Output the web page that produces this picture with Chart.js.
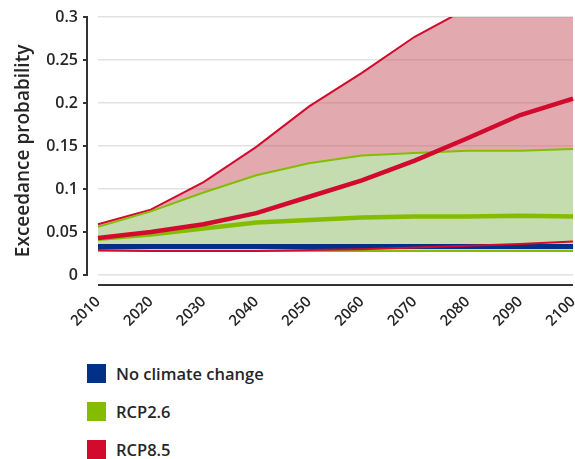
<!DOCTYPE html>
<html>
<head>
<meta charset="utf-8">
<script src="https://cdn.jsdelivr.net/npm/chart.js@4.4.1/dist/chart.umd.min.js"></script>
<style>
  html, body { margin: 0; padding: 0; background: #fff; }
  body { width: 575px; height: 459px; overflow: hidden; position: relative; font-family: "Open Sans", sans-serif; }
  #wrap { position: absolute; left: 0; top: 0; width: 575px; height: 340px; }
  .legend { position: absolute; left: 87px; top: 364px; }
  .legend .item { display: flex; align-items: center; height: 19px; margin-bottom: 19px; font-size: 16.5px; font-weight: 600; color: #262626; }
  .legend .sw { width: 19px; height: 19px; margin-right: 10px; }
</style>
</head>
<body>
<div id="wrap"><canvas id="chart"></canvas></div>
<div class="legend" id="legend"></div>
<script>
// 年（10年刻み）
const years = ['2010', '2020', '2030', '2040', '2050', '2060', '2070', '2080', '2090', '2100'];

// 気候変動なし
const noChange = [0.033, 0.033, 0.033, 0.033, 0.033, 0.033, 0.033, 0.033, 0.033, 0.033];

// RCP2.6（下限・中央・上限）
const rcp26Low = [0.028, 0.028, 0.028, 0.028, 0.028, 0.028, 0.028, 0.028, 0.028, 0.028];
const rcp26Mid = [0.042, 0.047, 0.054, 0.061, 0.064, 0.067, 0.068, 0.068, 0.069, 0.068];
const rcp26Up  = [0.056, 0.074, 0.096, 0.116, 0.130, 0.139, 0.142, 0.1445, 0.1445, 0.1465];

// RCP8.5（下限・中央・上限）
const rcp85Low = [0.029, 0.028, 0.028, 0.028, 0.029, 0.030, 0.032, 0.034, 0.036, 0.039];
const rcp85Mid = [0.043, 0.050, 0.059, 0.072, 0.091, 0.110, 0.133, 0.159, 0.186, 0.205];
const rcp85Up  = [0.059, 0.076, 0.108, 0.149, 0.196, 0.235, 0.277, 0.31, 0.34, 0.37];

const yTicks = [0, 0.05, 0.1, 0.15, 0.2, 0.25, 0.3];

const legendNames = ['No climate change', 'RCP2.6', 'RCP8.5'];
const legendColors = ['#003087', '#84bd00', '#d20a2e'];

const RED = '#d20a2e', GREEN = '#84bd00', BLUE = '#003087';
const FONT = 'Open Sans';

// 軸線（プロット領域から少し離して描く）
const axisLines = {
  id: 'axisLines',
  afterDraw(chart) {
    const { ctx, chartArea: a, scales: { y } } = chart;
    ctx.save();
    ctx.strokeStyle = '#333';
    ctx.lineWidth = 2;
    ctx.beginPath();
    ctx.moveTo(a.left - 11, a.top - 1);
    ctx.lineTo(a.left - 11, a.bottom + 1);
    yTicks.forEach(v => {
      const py = y.getPixelForValue(v);
      ctx.moveTo(a.left - 15, py);
      ctx.lineTo(a.left - 11, py);
    });
    ctx.moveTo(a.left, a.bottom + 10);
    ctx.lineTo(a.right, a.bottom + 10);
    ctx.stroke();
    ctx.restore();
  }
};

const line = (data, color, width, extra) => Object.assign({
  data, borderColor: color, borderWidth: width, pointRadius: 0, tension: 0, fill: false
}, extra || {});

new Chart(document.getElementById('chart'), {
  type: 'line',
  data: {
    labels: years,
    datasets: [
      line(rcp85Mid, RED, 4.5, { label: 'RCP8.5 median', order: 0 }),
      line(rcp26Mid, GREEN, 4.5, { label: 'RCP2.6 median', order: 1 }),
      line(rcp85Low, RED, 2, { label: 'RCP8.5 low', order: 2 }),
      line(noChange, BLUE, 5, { label: 'No climate change', order: 3 }),
      line(rcp26Up, GREEN, 2, { label: 'RCP2.6 high', order: 4, fill: 6, backgroundColor: '#c5dcb0' }),
      line(rcp85Up, RED, 2, { label: 'RCP8.5 high', order: 5, fill: 2, backgroundColor: 'rgba(197,85,93,0.5)' }),
      line(rcp26Low, GREEN, 2, { label: 'RCP2.6 low', order: 6 })
    ]
  },
  options: {
    responsive: true, maintainAspectRatio: false, animation: false,
    layout: { padding: { top: 17, left: 10, right: 2, bottom: 0 } },
    plugins: {
      legend: { display: false },
      tooltip: { enabled: false },
      filler: { drawTime: 'beforeDatasetsDraw' }
    },
    scales: {
      x: {
        offset: false,
        grid: { display: false },
        border: { display: false },
        ticks: { autoSkip: false, maxRotation: 45, minRotation: 45, padding: 10, color: '#262626', font: { family: FONT, size: 15, weight: 600 } },
        afterFit: s => { s.paddingRight = 0; s.paddingLeft = 0; s.height = 65; }
      },
      y: {
        min: 0, max: 0.3,
        afterBuildTicks: s => { s.ticks = yTicks.map(v => ({ value: v })); },
        grid: { color: '#e2e2e2', lineWidth: 1.5, drawTicks: false },
        border: { display: false },
        ticks: { padding: 20, color: '#262626', font: { family: FONT, size: 16, weight: 600 },
                 callback: v => String(Math.round(v * 100) / 100) },
        title: { display: true, text: 'Exceedance probability  ', color: '#262626',
                 font: { family: FONT, size: 19, weight: 600 }, padding: { top: 2, bottom: 4 } },
        afterFit: s => { s.width = 88; s.paddingTop = 0; s.paddingBottom = 0; }
      }
    }
  },
  plugins: [axisLines]
});

// 凡例
const lg = document.getElementById('legend');
legendNames.forEach((name, i) => {
  const it = document.createElement('div');
  it.className = 'item';
  it.innerHTML = `<span class="sw" style="background:${legendColors[i]}"></span>${name}`;
  lg.appendChild(it);
});
</script>
</body>
</html>
